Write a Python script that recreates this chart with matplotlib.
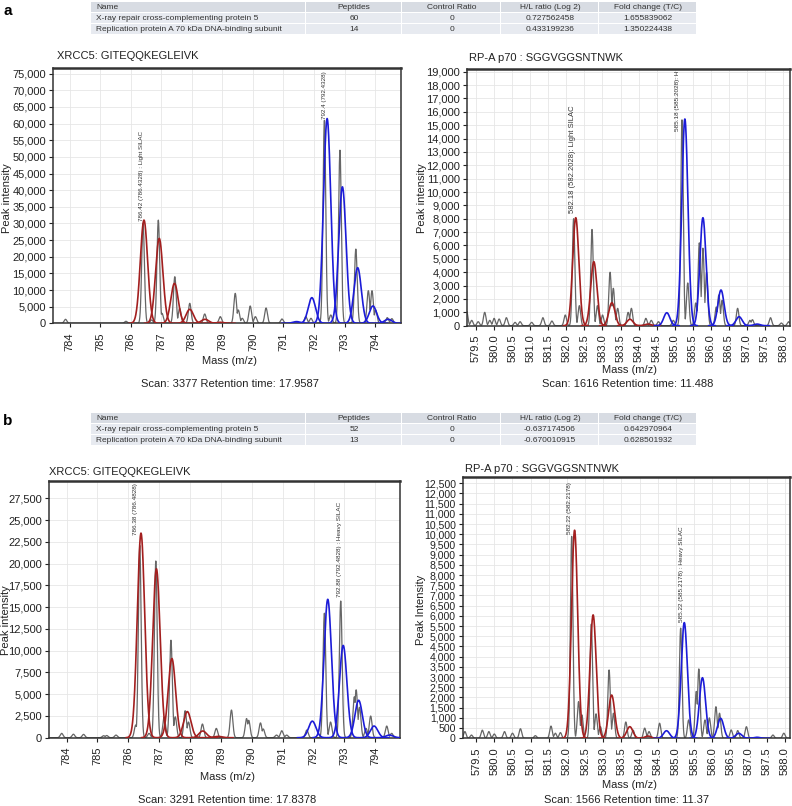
import numpy as np
import matplotlib.pyplot as plt
from matplotlib.patches import Rectangle
from matplotlib.ticker import FuncFormatter, MultipleLocator

plt.rcParams['font.family'] = ['Liberation Sans', 'DejaVu Sans']

W, H = 792, 806

# ---- tables ----
tbl_cols = ['Name', 'Peptides', 'Control Ratio', 'H/L ratio (Log 2)', 'Fold change (T/C)']
tbl_names = ['X-ray repair cross-complementing protein 5',
             'Replication protein A 70 kDa DNA-binding subunit']
tbl_a_pep = ['60', '14']
tbl_a_ctrl = ['0', '0']
tbl_a_hl = ['0.727562458', '0.433199236']
tbl_a_fold = ['1.655839062', '1.350224438']
tbl_b_pep = ['52', '13']
tbl_b_ctrl = ['0', '0']
tbl_b_hl = ['-0.637174506', '-0.670010915']
tbl_b_fold = ['0.642970964', '0.628501932']

# ---- panel a, XRCC5 ----
xa_raw_mz = [783.86, 785.84, 786.40, 786.68, 786.90, 787.02, 787.44, 787.60, 787.93,
             788.42, 788.93, 789.42, 789.52, 789.65, 789.91, 790.08, 790.43, 790.95,
             791.73, 791.90, 792.34, 792.55, 792.85, 793.37, 793.78, 793.90, 794.02,
             794.40, 794.55]
xa_raw_int = [1200, 600, 30000, 1000, 31000, 3000, 14000, 4500, 6000,
              2800, 2000, 9000, 4000, 1500, 5200, 2000, 4600, 1300,
              2000, 1500, 61000, 2500, 52000, 22300, 9800, 9800, 4000,
              1700, 1400]
xa_light_mz = [786.43, 786.93, 787.43, 787.93, 788.43, 788.93]
xa_light_int = [31000, 25500, 12000, 4200, 1200, 300]
xa_heavy_mz = [791.43, 791.93, 792.43, 792.93, 793.43, 793.93, 794.43]
xa_heavy_int = [500, 7700, 61500, 41000, 16700, 5200, 1200]

# ---- panel a, RP-A p70 ----
ra_raw_mz = [579.24, 579.38, 579.56, 579.74, 579.88, 580.00, 580.14, 580.34, 580.58,
             580.72, 581.04, 581.35, 581.60, 581.97, 582.20, 582.36, 582.71, 582.86,
             583.00, 583.21, 583.30, 583.42, 583.71, 583.80, 584.20, 584.35, 584.55,
             584.96, 585.20, 585.36, 585.58, 585.68, 585.78, 585.88, 586.15, 586.22,
             586.31, 586.74, 587.08, 587.15, 587.65, 587.95, 588.15]
ra_raw_int = [1100, 400, 300, 1000, 400, 550, 500, 600, 250,
              300, 250, 600, 350, 800, 8000, 1500, 7200, 1500,
              800, 4000, 2800, 1300, 1000, 1300, 550, 400, 300,
              400, 15400, 3200, 1700, 6200, 5800, 4000, 1400, 2300,
              1900, 1300, 400, 450, 600, 200, 300]
ra_light_mz = [582.26, 582.76, 583.26, 583.76, 584.26]
ra_light_int = [8080, 4790, 1720, 480, 120]
ra_heavy_mz = [584.78, 585.28, 585.78, 586.28, 586.78, 587.28]
ra_heavy_int = [970, 15460, 8080, 2670, 673, 120]

# ---- panel b, XRCC5 ----
xb_raw_mz = [783.84, 784.22, 784.55, 785.20, 785.30, 785.60, 786.24, 786.37, 786.67,
             786.89, 787.16, 787.38, 787.52, 787.84, 787.95, 788.40, 788.85, 789.34,
             789.83, 789.90, 790.28, 790.37, 790.80, 790.97, 791.13, 791.78, 792.35,
             792.55, 792.88, 793.32, 793.38, 793.49, 793.70, 793.85, 794.37, 794.53]
xb_raw_int = [500, 400, 380, 230, 250, 300, 1460, 22100, 500,
              20300, 2400, 11200, 2400, 3100, 1800, 1570, 1070, 3180,
              2200, 2000, 1700, 1000, 300, 800, 300, 880, 14300,
              1800, 15700, 4700, 5500, 3500, 1070, 2490, 1340, 500]
xb_light_mz = [786.41, 786.91, 787.41, 787.91, 788.41, 788.91]
xb_light_int = [23500, 19400, 9100, 3000, 770, 150]
xb_heavy_mz = [791.96, 792.46, 792.96, 793.46, 793.96, 794.46]
xb_heavy_int = [1900, 15900, 10600, 4300, 1340, 300]

# ---- panel b, RP-A p70 ----
rb_raw_mz = [579.19, 579.37, 579.67, 579.85, 580.00, 580.28, 580.50, 580.72, 581.13,
             581.56, 581.68, 581.82, 582.13, 582.32, 582.41, 582.67, 582.80, 582.92,
             583.16, 583.28, 583.62, 583.82, 584.14, 584.26, 584.55, 585.13, 585.35,
             585.56, 585.63, 585.80, 585.92, 586.10, 586.20, 586.52, 586.70, 586.94,
             587.67, 587.97]
rb_raw_int = [330, 160, 400, 330, 210, 330, 250, 470, 130,
              600, 250, 280, 9900, 1800, 1150, 5600, 1200, 570,
              3350, 1230, 800, 400, 500, 330, 740, 5400, 900,
              2300, 3400, 900, 1000, 1550, 1230, 410, 380, 570,
              160, 250]
rb_light_mz = [582.21, 582.72, 583.23, 583.73, 584.23]
rb_light_int = [10200, 6050, 2120, 570, 110]
rb_heavy_mz = [584.74, 585.23, 585.73, 586.23, 586.73, 587.23]
rb_heavy_int = [370, 5670, 2970, 980, 245, 50]


def fx(px):
    return px / W


def fy(py):
    return 1 - py / H


def rect(x0, y0, x1, y1):
    return [fx(x0), fy(y1), (x1 - x0) / W, (y1 - y0) / H]


fig = plt.figure(figsize=(W / 100, H / 100), dpi=100)

# overlay for tables and panel letters
ov = fig.add_axes([0, 0, 1, 1])
ov.set_xlim(0, W)
ov.set_ylim(H, 0)
ov.axis('off')

col_edges = [91, 306, 402, 501, 599, 697]


def draw_table(top, pep, ctrl, hl, fold):
    rh = 11
    rows = [tbl_cols] + [[tbl_names[i], pep[i], ctrl[i], hl[i], fold[i]] for i in range(2)]
    for r, row in enumerate(rows):
        y0 = top + r * rh
        for c in range(5):
            x0, x1 = col_edges[c], col_edges[c + 1]
            ov.add_patch(Rectangle((x0, y0), x1 - x0 - 1, rh - 1,
                                   facecolor='#d8dce3' if r == 0 else '#e7eaf0',
                                   edgecolor='none'))
            if c == 0:
                ov.text(x0 + 5, y0 + rh / 2, row[c], ha='left', va='center',
                        fontsize=6.0, color='#333333')
            else:
                ov.text((x0 + x1) / 2, y0 + rh / 2, row[c], ha='center', va='center',
                        fontsize=6.0, color='#333333')


draw_table(2, tbl_a_pep, tbl_a_ctrl, tbl_a_hl, tbl_a_fold)
draw_table(413, tbl_b_pep, tbl_b_ctrl, tbl_b_hl, tbl_b_fold)
ov.text(3, 11, 'a', fontsize=11, fontweight='bold', va='center')
ov.text(3, 421, 'b', fontsize=11, fontweight='bold', va='center')

sig_fit = {'x': 0.12, 'r': 0.085}
sig_raw = {'x': 0.045, 'r': 0.035}


def gauss(x, c, h, s):
    return h * np.exp(-0.5 * ((x - c) / s) ** 2)


def panel(box, xlim, ylim, ystep, xstep, xfmt, kind, raw_mz, raw_int,
          light_mz, light_int, heavy_mz, heavy_int, ytick_fs):
    ax = fig.add_axes(rect(*box))
    x = np.linspace(xlim[0], xlim[1], 5000)
    y = np.zeros_like(x)
    for c, h in zip(raw_mz, raw_int):
        y = np.maximum(y, gauss(x, c, h, sig_raw[kind]))
    ax.plot(x, y, color='#666666', lw=0.9, zorder=2)
    s = sig_fit[kind]
    for mzs, ints, col in [(light_mz, light_int, '#a31f1f'), (heavy_mz, heavy_int, '#1c1cd8')]:
        for c, h in zip(mzs, ints):
            xx = np.linspace(c - 4 * s, c + 4 * s, 200)
            ax.plot(xx, gauss(xx, c, h, s), color=col, lw=1.2, zorder=3)
    ax.set_xlim(*xlim)
    ax.set_ylim(*ylim)
    ax.yaxis.set_major_locator(MultipleLocator(ystep))
    ax.xaxis.set_major_locator(MultipleLocator(xstep))
    ax.yaxis.set_major_formatter(FuncFormatter(lambda v, p: f'{int(round(v)):,}'))
    ax.xaxis.set_major_formatter(FuncFormatter(lambda v, p: xfmt % v))
    ax.grid(True, color='#e6e6e6', lw=0.6, zorder=0)
    ax.set_axisbelow(True)
    ax.tick_params(axis='x', rotation=90, labelsize=8, length=3, colors='#222222')
    ax.tick_params(axis='y', labelsize=ytick_fs, length=3, colors='#222222', pad=2)
    for sp in ax.spines.values():
        sp.set_color('#333333')
        sp.set_linewidth(1.1)
    ax.spines['top'].set_linewidth(1.8)
    return ax


def peak_label(ax, x, y, s, fs):
    ax.text(x, y, s, rotation=90, ha='center', va='bottom', fontsize=fs,
            color='#333333', clip_on=True)


# a left
ax1 = panel((53, 68, 401, 323.3), (783.45, 794.85), (0, 76700), 5000, 1, '%d', 'x',
            xa_raw_mz, xa_raw_int, xa_light_mz, xa_light_int, xa_heavy_mz, xa_heavy_int, 8)
peak_label(ax1, 786.36, 30600, '786.42 (786.4328) : Light SILAC', 4.5)
peak_label(ax1, 792.34, 61500, '792.4 (792.4328)', 4.5)

# a right
ax2 = panel((467, 69.3, 790, 325.7), (579.25, 588.19), (0, 19180), 1000, 0.5, '%.1f', 'r',
            ra_raw_mz, ra_raw_int, ra_light_mz, ra_light_int, ra_heavy_mz, ra_heavy_int, 8)
peak_label(ax2, 582.16, 8400, '582.18 (582.2028): Light SILAC', 5.5)
peak_label(ax2, 585.08, 14600, '585.18 (585.2028): H', 4.6)

# b left
ax3 = panel((49, 481, 400, 737.7), (783.43, 794.8), (0, 29490), 2500, 1, '%d', 'x',
            xb_raw_mz, xb_raw_int, xb_light_mz, xb_light_int, xb_heavy_mz, xb_heavy_int, 8)
peak_label(ax3, 786.23, 23300, '786.38 (786.4828)', 4.6)
peak_label(ax3, 792.85, 16200, '792.88 (792.4828) : Heavy SILAC', 4.6)

# b right
ax4 = panel((462.7, 477.3, 790, 738.3), (579.13, 588.14), (0, 12794), 500, 0.5, '%.1f', 'r',
            rb_raw_mz, rb_raw_int, rb_light_mz, rb_light_int, rb_heavy_mz, rb_heavy_int, 7.6)
peak_label(ax4, 582.06, 10000, '582.22 (582.2178)', 4.6)
peak_label(ax4, 585.16, 5700, '585.22 (585.2178) : Heavy SILAC', 4.6)

# titles, axis labels, scan info
titles = [(57, 56, 'XRCC5: GITEQQKEGLEIVK'), (469, 58, 'RP-A p70 : SGGVGGSNTNWK'),
          (49, 472, 'XRCC5: GITEQQKEGLEIVK'), (465, 469, 'RP-A p70 : SGGVGGSNTNWK')]
for px, py, t in titles:
    fig.text(fx(px), fy(py), t, ha='left', va='center', fontsize=8, color='#222222')

ylabels = [(7, 198, 'Peak intensity'), (422, 198, 'Peak intensity'),
           (6, 620, 'Peak intensity'), (421, 610, 'Peak Intensity')]
for px, py, t in ylabels:
    fig.text(fx(px), fy(py), t, ha='center', va='center', rotation=90, fontsize=8,
             color='#222222')

xlabels = [(230, 361), (630, 370), (227, 777), (630, 785)]
for px, py in xlabels:
    fig.text(fx(px), fy(py), 'Mass (m/z)', ha='center', va='center', fontsize=8,
             color='#222222')

scans = [(230, 384, 'Scan: 3377 Retention time: 17.9587'),
         (628, 384, 'Scan: 1616 Retention time: 11.488'),
         (227, 800, 'Scan: 3291 Retention time: 17.8378'),
         (627, 800, 'Scan: 1566 Retention time: 11.37')]
for px, py, t in scans:
    fig.text(fx(px), fy(py), t, ha='center', va='center', fontsize=8, color='#222222')

fig.savefig('out.png', dpi=100)
